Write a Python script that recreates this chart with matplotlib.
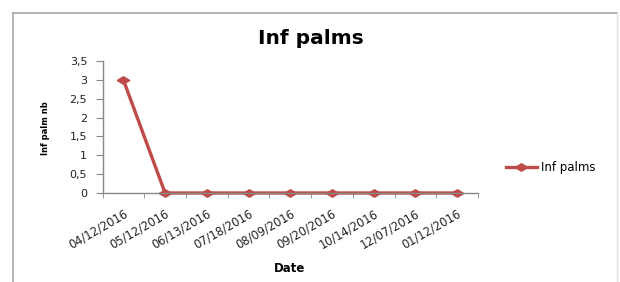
import matplotlib
matplotlib.use("Agg")
import matplotlib.pyplot as plt
from matplotlib.lines import Line2D

dates = ["04/12/2016", "05/12/2016", "06/13/2016", "07/18/2016", "08/09/2016",
         "09/20/2016", "10/14/2016", "12/07/2016", "01/12/2016"]
inf_palms = [3, 0, 0, 0, 0, 0, 0, 0, 0]
y_ticks = [0, 0.5, 1, 1.5, 2, 2.5, 3, 3.5]
y_labels = ["0", "0,5", "1", "1,5", "2", "2,5", "3", "3,5"]

red = "#BE4B48"
plt.rcParams['font.family'] = ['DejaVu Sans']

fig = plt.figure(figsize=(6.2, 2.82), dpi=100)
W, H = 620, 282

# outer chart frame, excel style
fig.add_artist(Line2D([12.5 / W, 12.5 / W], [0, 1 - 13 / H], color="#a8a8a8", lw=1.2))
fig.add_artist(Line2D([12.5 / W, 617 / W], [1 - 13 / H, 1 - 13 / H], color="#a8a8a8", lw=1.2))
fig.add_artist(Line2D([617 / W, 617 / W], [0, 1 - 13 / H], color="#e2e2e2", lw=1))

ax = fig.add_axes([102.5 / W, 1 - 193 / H, (478 - 102.5) / W, (193 - 61) / H])
x = list(range(len(dates)))
# wide diamond (the excel export looks stretched sideways)
wide_diamond = [(-1, 0), (0, 0.6), (1, 0), (0, -0.6), (-1, 0)]
ax.plot(x, inf_palms, color=red, lw=2.4, marker=wide_diamond, markersize=9,
        label="Inf palms", clip_on=False)

ax.set_xlim(-0.5, len(dates) - 0.5)
ax.set_ylim(0, 3.5)
ax.set_yticks(y_ticks)
ax.set_yticklabels(y_labels, fontsize=8, color="#222222")
ax.set_xticks(x)
ax.set_xticklabels(dates, rotation=30, ha="right", va="top", rotation_mode="anchor",
                   fontsize=8.3, color="#222222")
ax.tick_params(axis="x", which="major", length=0, pad=10)
ax.set_xticks([i - 0.5 for i in range(len(dates) + 1)], minor=True)
ax.tick_params(axis="x", which="minor", length=3.5, color="#888888", direction="out")
ax.tick_params(axis="y", length=5, color="#888888", direction="out", pad=6)

for s in ["top", "right"]:
    ax.spines[s].set_visible(False)
for s in ["left", "bottom"]:
    ax.spines[s].set_color("#888888")
    ax.spines[s].set_linewidth(1)

fig.text(311 / W, 1 - 38 / H, "Inf palms", ha="center", va="center",
         fontsize=14.5, fontweight="bold")
fig.text(45 / W, 1 - 128 / H, "Inf palm nb", ha="center", va="center",
         rotation=90, fontsize=6, fontweight="bold")
fig.text(290 / W, 1 - 268 / H, "Date", ha="center", va="center",
         fontsize=8.5, fontweight="bold")

ax.legend(loc="center left", bbox_to_anchor=(500 / W, 1 - 168 / H),
          bbox_transform=fig.transFigure, frameon=False, fontsize=8.5,
          handlelength=2.6, borderpad=0, handletextpad=0.4)

fig.savefig("out.png", dpi=100, facecolor="white")
